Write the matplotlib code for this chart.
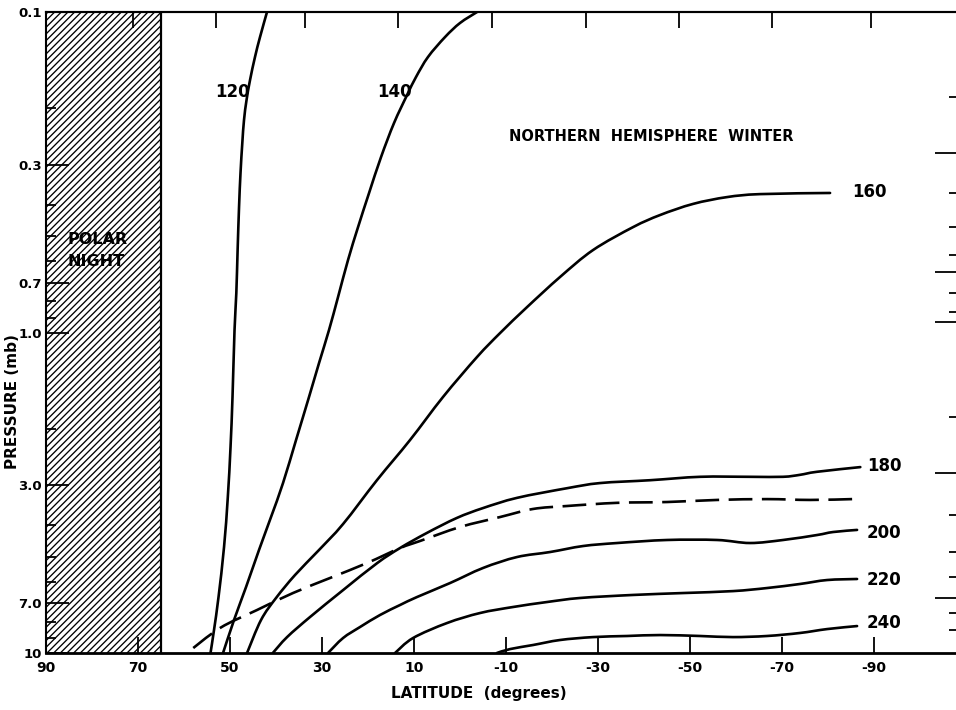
import numpy as np
import matplotlib
matplotlib.use("Agg")
import matplotlib.pyplot as plt
from matplotlib.path import Path
from matplotlib.patches import PathPatch
from matplotlib.ticker import FixedLocator, FixedFormatter, NullFormatter

plt.rcParams['font.family'] = ['DejaVu Sans']
plt.rcParams['hatch.linewidth'] = 0.95

# ---------------- data (latitude in degrees, pressure in mb) ----------------
lat_120 = [41.96, 43.48, 44.57, 45.65, 46.41, 46.96, 47.33, 47.72, 48.04, 48.35, 48.63, 49.02, 49.46,
           49.89, 50.48, 51.30, 52.50, 53.48, 54.24]
p_120 = [0.100, 0.1197, 0.1381, 0.1630, 0.1882, 0.2173, 0.2563, 0.3178, 0.4058, 0.553, 0.753, 0.982,
         1.589, 2.277, 3.261, 4.670, 6.69, 8.477, 10.0]

lat_140 = [-3.70, 0.0, 3.26, 6.96, 9.57, 11.52, 14.35, 17.17, 19.78, 22.17, 24.35, 26.52, 28.48, 30.65,
           32.83, 35.65, 38.48, 41.09, 43.70, 46.52, 49.13, 51.52]
p_140 = [0.100, 0.1082, 0.1197, 0.1381, 0.1595, 0.1816, 0.2220, 0.2834, 0.3671, 0.4688, 0.5940, 0.7749,
         0.982, 1.245, 1.589, 2.165, 2.949, 3.765, 4.771, 6.226, 7.888, 10.0]

lat_160 = [-80.43, -65.22, -58.04, -50.65, -43.48, -37.61, -28.91, -21.74, -14.57, -8.70, -3.70, 3.70,
           10.87, 18.04, 25.43, 30.87, 35.87, 40.0, 43.26, 46.30]
p_160 = [0.367, 0.370, 0.378, 0.397, 0.430, 0.469, 0.553, 0.671, 0.833, 1.004, 1.192, 1.589, 2.165,
         2.886, 3.959, 4.806, 5.710, 6.735, 7.888, 10.0]

lat_180 = [-87.0, -77.6, -73.9, -70.2, -63.0, -52.2, -41.3, -30.4, -23.3, -12.4, -5.0, 0.7, 7.2, 13.0,
           18.0, 25.4, 32.6, 37.6, 40.7]
p_180 = [2.63, 2.72, 2.78, 2.82, 2.82, 2.82, 2.89, 2.95, 3.06, 3.28, 3.53, 3.79, 4.22, 4.70, 5.24, 6.36,
         7.72, 8.92, 10.0]

lat_200 = [-86.30, -81.09, -77.61, -70.22, -63.04, -55.87, -45.0, -34.13, -26.74, -19.57, -12.39, -5.0,
           2.17, 9.35, 13.04, 17.39, 21.74, 25.43, 28.70]
p_200 = [4.13, 4.193, 4.284, 4.440, 4.538, 4.440, 4.440, 4.538, 4.637, 4.841, 5.018, 5.429, 6.049,
         6.688, 7.083, 7.610, 8.297, 8.980, 10.0]

lat_220 = [-86.30, -79.78, -73.91, -66.74, -59.35, -48.48, -37.61, -26.09, -18.91, -11.52, -4.35, 2.83,
           10.22, 14.13]
p_220 = [5.876, 5.92, 6.09, 6.27, 6.41, 6.50, 6.59, 6.735, 6.933, 7.186, 7.503, 8.063, 8.980, 10.0]

lat_240 = [-86.3, -79.8, -73.9, -66.7, -59.3, -52.2, -43.5, -36.3, -28.9, -21.7, -15.9, -10.9, -8.0]
p_240 = [8.24, 8.42, 8.66, 8.85, 8.92, 8.85, 8.79, 8.85, 8.92, 9.11, 9.44, 9.72, 10.0]

lat_dashed = [-85.22, -76.09, -66.74, -55.87, -45.0, -34.13, -23.26, -15.87, -8.70, 0.0, 8.70, 13.04,
              20.22, 28.26, 36.30, 44.13, 52.17, 59.35]
p_dashed = [3.31, 3.33, 3.31, 3.33, 3.38, 3.40, 3.478, 3.553, 3.765, 4.045, 4.472, 4.705, 5.239, 5.834,
            6.498, 7.343, 8.356, 10.0]

contour_labels = ['120', '140', '160', '180', '200', '220', '240']

polar_night_edge = 65.0

x_ticks = [90, 70, 50, 30, 10, -10, -30, -50, -70, -90]
x_tick_labels = ['90', '70', '50', '30', '10', '-10', '-30', '-50', '-70', '-90']
top_ticks = [71.1, 53.0, 33.7, 13.5, -7.0, -27.4, -47.6, -67.8, -89.3]

y_major = [0.1, 0.3, 0.7, 1.0, 3.0, 7.0, 10.0]
y_major_labels = ['0.1', '0.3', '0.7', '1.0', '3.0', '7.0', '10']
y_minor = [0.2, 0.4, 0.5, 0.6, 0.8, 0.9, 2, 4, 5, 6, 8, 9]

right_long = [0.275, 0.647, 0.927, 2.744, 6.74]
right_short = [0.184, 0.367, 0.469, 0.573, 0.753, 0.863, 1.835, 3.71, 4.84, 5.79, 7.50, 8.48]


def smooth_path(lat, p, sx=4.6, sy=320.5):
    """Catmull-Rom -> cubic Bezier path through the given points (rendering only)."""
    X = np.asarray(lat, float) * sx
    Y = np.log10(np.asarray(p, float)) * sy
    P = np.column_stack([X, Y])
    n = len(P)
    verts = [P[0]]
    codes = [Path.MOVETO]
    for i in range(n - 1):
        p0 = P[i - 1] if i > 0 else P[i]
        p1 = P[i]
        p2 = P[i + 1]
        p3 = P[i + 2] if i + 2 < n else P[i + 1]
        c1 = p1 + (p2 - p0) / 6.0
        c2 = p2 - (p3 - p1) / 6.0
        verts += [c1, c2, p2]
        codes += [Path.CURVE4] * 3
    V = np.array(verts)
    V[:, 0] = V[:, 0] / sx
    V[:, 1] = 10 ** (V[:, 1] / sy)
    return Path(V, codes)


# ---------------- figure ----------------
fig = plt.figure(figsize=(9.56, 7.10), dpi=100)
ax = fig.add_axes([46 / 956, 57 / 710, 910 / 956, 641 / 710])

ax.set_yscale('log')
ax.set_xlim(90, -107.8)
ax.set_ylim(10, 0.1)

# polar night hatching
ax.axvspan(90, polar_night_edge, facecolor='white', edgecolor='black', hatch='/////',
           linewidth=0, zorder=0)
ax.axvline(polar_night_edge, color='black', lw=1.6, zorder=1)

lw = 1.9
curves = [(lat_120, p_120), (lat_140, p_140), (lat_160, p_160), (lat_180, p_180),
          (lat_200, p_200), (lat_220, p_220), (lat_240, p_240)]
for la, pp in curves:
    ax.add_patch(PathPatch(smooth_path(la, pp), fill=False, edgecolor='black', lw=lw,
                           capstyle='round', joinstyle='round', zorder=3))
ax.add_patch(PathPatch(smooth_path(lat_dashed, p_dashed), fill=False, edgecolor='black', lw=lw,
                       ls=(0, (9, 3.6)), zorder=3))

lab_font = dict(fontsize=12, fontweight='bold', color='black')
label_pos = [(53.3, 0.178), (18.0, 0.178), (-85.2, 0.364), (-88.5, 2.61),
             (-88.3, 4.22), (-88.3, 5.92), (-88.3, 8.09)]
for txt, (lx, ly) in zip(contour_labels, label_pos):
    ax.text(lx, ly, txt, ha='left', va='center', **lab_font)

ax.text(0.665, 0.805, 'NORTHERN  HEMISPHERE  WINTER', transform=ax.transAxes,
        ha='center', va='center', fontsize=10.5, fontweight='bold')
ax.text(85.4, 0.555, 'POLAR\nNIGHT', ha='left', va='center', fontsize=11.5,
        fontweight='bold', linespacing=1.65, zorder=2)

# x axis
ax.xaxis.set_major_locator(FixedLocator(x_ticks))
ax.xaxis.set_major_formatter(FixedFormatter(x_tick_labels))
ax.tick_params(axis='x', which='major', direction='in', length=11.5, width=1.3,
               labelsize=10, pad=6)
for t in ax.get_xticklabels():
    t.set_fontweight('bold')

# y axis
ax.yaxis.set_major_locator(FixedLocator(y_major))
ax.yaxis.set_major_formatter(FixedFormatter(y_major_labels))
ax.yaxis.set_minor_locator(FixedLocator(y_minor))
ax.yaxis.set_minor_formatter(NullFormatter())
ax.tick_params(axis='y', which='major', direction='in', length=16.5, width=1.3,
               labelsize=9.5, pad=3)
ax.tick_params(axis='y', which='minor', direction='in', length=7, width=1.3)
for t in ax.get_yticklabels():
    t.set_fontweight('bold')

ax.set_xlabel('LATITUDE  (degrees)', fontsize=11, fontweight='bold')
ax.xaxis.set_label_coords(0.476, -0.051)
ax.set_ylabel('PRESSURE (mb)', fontsize=11, fontweight='bold')
ax.yaxis.set_label_coords(-0.029, 0.393)

for side in ['left', 'top']:
    ax.spines[side].set_linewidth(1.5)
ax.spines['bottom'].set_linewidth(2.0)
ax.spines['right'].set_visible(False)

# top ticks (hand-drawn frame)
top = ax.secondary_xaxis('top')
top.xaxis.set_major_locator(FixedLocator(top_ticks))
top.xaxis.set_major_formatter(NullFormatter())
top.tick_params(axis='x', direction='in', length=11.5, width=1.3)
top.spines['top'].set_linewidth(1.5)

# right edge tick marks
right = ax.secondary_yaxis('right')
right.yaxis.set_major_locator(FixedLocator(right_long))
right.yaxis.set_minor_locator(FixedLocator(right_short))
right.yaxis.set_major_formatter(NullFormatter())
right.yaxis.set_minor_formatter(NullFormatter())
right.tick_params(axis='y', which='major', direction='in', length=15, width=1.3)
right.tick_params(axis='y', which='minor', direction='in', length=5, width=1.3)
right.spines['right'].set_visible(False)

fig.savefig('out.png', dpi=100)
